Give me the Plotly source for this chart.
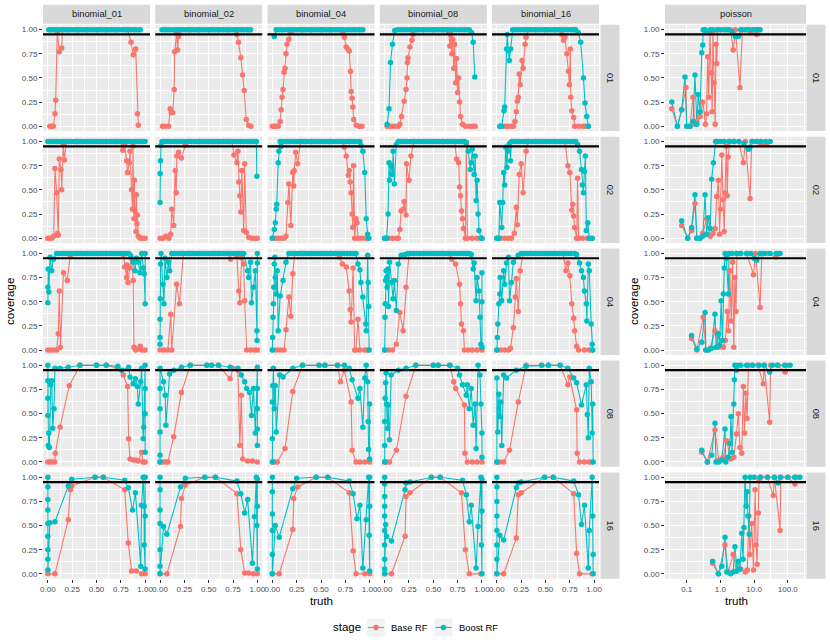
import plotly.graph_objects as go

# facet levels
rows = ["01", "02", "04", "08", "16"]
cols = ["binomial_01", "binomial_02", "binomial_04", "binomial_08", "binomial_16", "poisson"]
stages = ["Base RF", "Boost RF"]
stage_colors = ["#F8766D", "#00BFC4"]
target = 0.95
unit_ticks = [0, 0.25, 0.5, 0.75, 1]
unit_labels = ["0.00", "0.25", "0.50", "0.75", "1.00"]
unit_minor = [0.125, 0.375, 0.625, 0.875]
pois_ticks = [0.1, 1, 10, 100]
pois_labels = ["0.1", "1.0", "10.0", "100.0"]
pois_minor = [0.0316, 0.316, 3.16, 31.6, 316]

# ---- row 01 : (truth, coverage) ----
b01_r01_base = [(0.02,0),(0.04,0),(0.056,0),(0.073,0.13),(0.08,0.27),(0.097,0.97),(0.118,0.77),(0.142,0.81),(0.15,1),(0.2,1),(0.3,1),(0.4,1),(0.5,1),(0.6,1),(0.7,1),(0.82,1),(0.855,0.87),(0.878,0.74),(0.903,0.8),(0.92,0.13),(0.93,0.01)]
b01_r01_boost = [(0.01,1),(0.03,1),(0.05,1),(0.08,1),(0.11,1),(0.14,1),(0.17,1),(0.2,1),(0.23,1),(0.26,1),(0.29,1),(0.32,1),(0.35,1),(0.38,1),(0.41,1),(0.44,1),(0.47,1),(0.5,1),(0.53,1),(0.56,1),(0.59,1),(0.62,1),(0.65,1),(0.68,1),(0.71,1),(0.74,1),(0.77,1),(0.8,1),(0.83,1),(0.86,1),(0.89,1),(0.92,1),(0.95,1)]
b02_r01_base = [(0.025,0),(0.05,0),(0.087,0),(0.104,0.18),(0.115,0.14),(0.13,0.14),(0.145,0.38),(0.15,0.77),(0.17,0.96),(0.18,0.79),(0.19,0.93),(0.21,1),(0.3,1),(0.4,1),(0.5,1),(0.6,1),(0.7,1),(0.77,1),(0.79,0.95),(0.806,0.87),(0.83,0.71),(0.848,0.53),(0.865,0.37),(0.886,0.07),(0.91,0.01),(0.934,0)]
b02_r01_boost = [(0.02,1),(0.05,1),(0.08,1),(0.11,1),(0.14,1),(0.17,1),(0.2,1),(0.23,1),(0.26,1),(0.29,1),(0.32,1),(0.35,1),(0.38,1),(0.41,1),(0.44,1),(0.47,1),(0.5,1),(0.53,1),(0.56,1),(0.59,1),(0.62,1),(0.65,1),(0.68,1),(0.71,1),(0.74,1),(0.77,1),(0.8,1),(0.83,1),(0.86,1),(0.89,1),(0.91,1),(0.93,1)]
b04_r01_base = [(0.0,0),(0.02,0),(0.04,0),(0.06,0),(0.08,0.05),(0.09,0.17),(0.1,0.3),(0.11,0.38),(0.12,0.56),(0.13,0.6),(0.14,0.75),(0.15,0.85),(0.17,0.9),(0.19,0.97),(0.22,1),(0.3,1),(0.4,1),(0.5,1),(0.6,1),(0.7,1),(0.724,0.97),(0.74,0.92),(0.759,0.82),(0.775,0.8),(0.79,0.78),(0.803,0.57),(0.81,0.36),(0.82,0.29),(0.827,0.2),(0.837,0.07),(0.862,0.01),(0.89,0),(0.92,0)]
b04_r01_boost = [(0.02,0.93),(0.04,1),(0.07,1),(0.1,1),(0.13,1),(0.16,1),(0.19,1),(0.22,1),(0.25,1),(0.28,1),(0.31,1),(0.34,1),(0.37,1),(0.4,1),(0.43,1),(0.46,1),(0.49,1),(0.52,1),(0.55,1),(0.58,1),(0.61,1),(0.64,1),(0.67,1),(0.7,1),(0.73,1),(0.76,1),(0.79,1),(0.82,1),(0.85,1),(0.88,1),(0.9,1),(0.93,1)]
b08_r01_base = [(0.025,0),(0.05,0),(0.08,0),(0.11,0),(0.14,0),(0.156,0.02),(0.173,0.1),(0.2,0.26),(0.22,0.38),(0.23,0.5),(0.235,0.66),(0.24,0.71),(0.26,0.82),(0.28,0.89),(0.29,0.95),(0.32,1),(0.4,1),(0.5,1),(0.6,1),(0.64,1),(0.66,0.97),(0.67,0.83),(0.68,0.95),(0.69,0.75),(0.7,0.9),(0.71,0.6),(0.72,0.85),(0.73,0.45),(0.74,0.7),(0.75,0.35),(0.76,0.5),(0.77,0.25),(0.78,0.1),(0.8,0.02),(0.83,0),(0.87,0),(0.9,0),(0.93,0)]
b08_r01_boost = [(0.025,0.02),(0.045,0.18),(0.06,0.66),(0.08,0.85),(0.104,0.99),(0.13,1),(0.16,1),(0.19,1),(0.22,1),(0.25,1),(0.28,1),(0.31,1),(0.34,1),(0.37,1),(0.4,1),(0.43,1),(0.46,1),(0.49,1),(0.52,1),(0.55,1),(0.58,1),(0.61,1),(0.64,1),(0.67,1),(0.7,1),(0.73,1),(0.76,1),(0.79,1),(0.82,1),(0.85,1),(0.87,1),(0.893,0.97),(0.91,0.87),(0.927,0.51)]
b16_r01_base = [(0.032,0),(0.06,0),(0.09,0),(0.12,0),(0.15,0),(0.17,0),(0.186,0.05),(0.2,0.15),(0.21,0.26),(0.22,0.3),(0.23,0.54),(0.24,0.43),(0.26,0.68),(0.27,0.6),(0.29,0.85),(0.3,0.92),(0.32,1),(0.4,1),(0.5,1),(0.6,1),(0.65,1),(0.667,0.95),(0.685,0.89),(0.7,0.92),(0.72,0.75),(0.736,0.57),(0.745,0.43),(0.755,0.8),(0.76,0.3),(0.77,0.16),(0.79,0.09),(0.8,0),(0.84,0),(0.88,0),(0.91,0),(0.94,0)]
b16_r01_boost = [(0.032,0),(0.05,0),(0.073,0.16),(0.08,0.2),(0.1,0.8),(0.107,0.95),(0.118,0.78),(0.128,0.68),(0.142,0.8),(0.163,1),(0.19,1),(0.22,1),(0.25,1),(0.28,1),(0.31,1),(0.34,1),(0.37,1),(0.4,1),(0.43,1),(0.46,1),(0.49,1),(0.52,1),(0.55,1),(0.58,1),(0.61,1),(0.64,1),(0.67,1),(0.7,1),(0.73,1),(0.76,1),(0.79,1),(0.81,1),(0.837,0.97),(0.862,0.87),(0.89,0.5),(0.906,0.24),(0.924,0.1),(0.94,0)]
pois_r01_base = [(0.036,0.18),(0.053,0.0),(0.071,0.17),(0.095,0.4),(0.1,0.0),(0.125,0.0),(0.154,0.3),(0.176,0.02),(0.2,0.05),(0.25,0.1),(0.3,0.25),(0.36,0.02),(0.39,0.13),(0.42,0.72),(0.45,0.3),(0.49,0.97),(0.53,0.55),(0.57,0.15),(0.6,0.98),(0.65,0.45),(0.7,0.02),(0.74,0.85),(0.78,0.65),(0.82,1.0),(1.0,1.0),(1.5,1.0),(2.0,1.0),(2.4,0.79),(2.8,1.0),(3.8,0.4),(4.5,1.0),(6,1.0),(8,0.97),(10,1.0),(12,0.95),(13,1.0)]
pois_r01_boost = [(0.036,0.25),(0.053,0.0),(0.071,0.17),(0.089,0.51),(0.1,0.0),(0.125,0.0),(0.154,0.05),(0.176,0.53),(0.2,0.02),(0.22,0.33),(0.25,0.15),(0.28,0.76),(0.3,0.84),(0.31,1.0),(0.35,1.0),(0.4,0.97),(0.5,1.0),(0.6,1.0),(0.8,1.0),(1.0,1.0),(1.3,1.0),(1.7,1.0),(2.2,0.98),(2.8,0.93),(3.4,0.93),(4.0,1.0),(5.5,1.0),(7.0,1.0),(9.0,1.0),(11,1.0),(13,1.0),(15,1.0)]

# ---- row 02 ----
b01_r02_base = [(0.0,0),(0.02,0),(0.04,0),(0.06,0.02),(0.073,0.72),(0.09,0.47),(0.1,0.05),(0.107,0.03),(0.118,0.82),(0.135,0.71),(0.142,0.5),(0.159,0.97),(0.17,0.81),(0.19,1),(0.3,1),(0.4,1),(0.5,1),(0.6,1),(0.7,1),(0.75,1),(0.77,0.91),(0.79,0.97),(0.81,0.8),(0.82,0.68),(0.837,0.78),(0.845,0.9),(0.86,0.5),(0.87,0.3),(0.875,0.95),(0.885,0.2),(0.89,0.6),(0.895,0.28),(0.906,0.07),(0.91,0.45),(0.915,0.15),(0.92,0.24),(0.93,0.02),(0.95,0),(0.97,0),(1.0,0)]
b01_r02_boost = [(0.0,1),(0.03,1),(0.06,1),(0.09,1),(0.12,1),(0.15,1),(0.18,1),(0.21,1),(0.24,1),(0.27,1),(0.3,1),(0.33,1),(0.36,1),(0.39,1),(0.42,1),(0.45,1),(0.48,1),(0.51,1),(0.54,1),(0.57,1),(0.6,1),(0.63,1),(0.66,1),(0.69,1),(0.72,1),(0.75,1),(0.78,1),(0.81,1),(0.84,1),(0.87,1),(0.9,1),(0.93,1),(0.96,1),(0.98,1),(1.0,1)]
b02_r02_base = [(0.0,0),(0.03,0),(0.06,0.02),(0.09,0),(0.11,0.04),(0.12,0.3),(0.14,0.13),(0.155,0.7),(0.166,0.47),(0.173,0.85),(0.19,0.89),(0.22,0.83),(0.26,0.96),(0.29,1),(0.4,1),(0.5,1),(0.6,1),(0.7,1),(0.74,1),(0.76,0.86),(0.79,0.78),(0.8,0.9),(0.81,0.58),(0.82,0.44),(0.83,0.27),(0.84,0.7),(0.86,0.08),(0.87,0.77),(0.886,0.06),(0.91,0.01),(0.94,0),(0.97,0),(1.0,0)]
b02_r02_boost = [(0.0,0.37),(0.001,0.67),(0.005,0.8),(0.01,0.96),(0.02,1),(0.05,1),(0.08,1),(0.11,1),(0.14,1),(0.17,1),(0.2,1),(0.23,1),(0.26,1),(0.29,1),(0.32,1),(0.35,1),(0.38,1),(0.41,1),(0.44,1),(0.47,1),(0.5,1),(0.53,1),(0.56,1),(0.59,1),(0.62,1),(0.65,1),(0.68,1),(0.71,1),(0.74,1),(0.77,1),(0.8,1),(0.83,1),(0.86,1),(0.89,1),(0.92,1),(0.95,1),(0.98,1),(0.99,1),(0.995,0.64)]
b04_r02_base = [(0.0,0),(0.03,0),(0.06,0),(0.09,0),(0.12,0),(0.14,0.02),(0.16,0.37),(0.17,0.56),(0.19,0.13),(0.21,0.68),(0.22,0.54),(0.225,0.7),(0.24,0.89),(0.26,0.77),(0.29,1),(0.4,1),(0.5,1),(0.6,1),(0.72,1),(0.74,0.94),(0.76,0.85),(0.78,0.65),(0.79,0.7),(0.8,0.58),(0.81,0.47),(0.82,0.25),(0.827,0.11),(0.835,0.75),(0.846,0.0),(0.86,0.2),(0.87,0.16),(0.88,0),(0.92,0),(0.96,0),(0.99,0)]
b04_r02_boost = [(0.0,0.0),(0.02,0.09),(0.03,0.16),(0.04,0.3),(0.045,0.35),(0.06,0.78),(0.067,0.9),(0.08,1),(0.09,0.95),(0.1,1),(0.13,1),(0.16,1),(0.19,1),(0.22,1),(0.25,1),(0.28,1),(0.31,1),(0.34,1),(0.37,1),(0.4,1),(0.43,1),(0.46,1),(0.49,1),(0.52,1),(0.55,1),(0.58,1),(0.61,1),(0.64,1),(0.67,1),(0.7,1),(0.73,1),(0.76,1),(0.79,1),(0.82,1),(0.85,1),(0.88,1),(0.9,1),(0.91,0.96),(0.93,0.9),(0.95,0.68),(0.965,0.2),(0.98,0.04),(0.99,0.0)]
b08_r02_base = [(0.0,0),(0.04,0),(0.08,0),(0.12,0),(0.14,0.0),(0.156,0.09),(0.17,0.28),(0.19,0.3),(0.2,0.38),(0.22,0.24),(0.225,0.77),(0.25,0.6),(0.27,0.85),(0.3,1),(0.4,1),(0.5,1),(0.6,1),(0.72,1),(0.74,0.82),(0.76,0.78),(0.77,0.53),(0.78,0.44),(0.79,0.28),(0.8,0.2),(0.81,0.1),(0.83,0.0),(0.84,0.97),(0.85,0),(0.9,0),(0.95,0),(1.0,0)]
b08_r02_boost = [(0.0,0),(0.02,0),(0.035,0.25),(0.045,0.78),(0.05,0.6),(0.065,0.75),(0.08,0.66),(0.087,0.9),(0.1,0.56),(0.12,0.97),(0.14,1),(0.17,1),(0.2,1),(0.23,1),(0.26,1),(0.29,1),(0.32,1),(0.35,1),(0.38,1),(0.41,1),(0.44,1),(0.47,1),(0.5,1),(0.53,1),(0.56,1),(0.59,1),(0.62,1),(0.65,1),(0.68,1),(0.71,1),(0.74,1),(0.77,1),(0.8,1),(0.82,1),(0.84,0.99),(0.86,0.9),(0.88,0.71),(0.89,0.78),(0.9,0.92),(0.92,0.66),(0.93,0.85),(0.94,0.39),(0.95,0.6),(0.96,0.25),(0.97,0.08),(0.99,0.0),(1.0,0.0)]
b16_r02_base = [(0.0,0),(0.04,0),(0.08,0),(0.12,0),(0.15,0),(0.18,0.05),(0.2,0.32),(0.21,0.14),(0.23,0.66),(0.25,0.77),(0.27,0.47),(0.3,0.9),(0.32,1),(0.4,1),(0.5,1),(0.6,1),(0.7,1),(0.73,0.75),(0.75,0.68),(0.77,0.29),(0.78,0.35),(0.79,0.23),(0.8,0.11),(0.82,0.0),(0.83,0.62),(0.84,0),(0.88,0),(0.93,0),(0.98,0)]
b16_r02_boost = [(0.0,0),(0.02,0),(0.03,0.37),(0.05,0.11),(0.06,0.37),(0.07,0.68),(0.08,0.55),(0.09,0.94),(0.105,0.73),(0.11,0.9),(0.13,0.98),(0.14,0.8),(0.15,1),(0.18,1),(0.21,1),(0.24,1),(0.27,1),(0.3,1),(0.33,1),(0.36,1),(0.39,1),(0.42,1),(0.45,1),(0.48,1),(0.51,1),(0.54,1),(0.57,1),(0.6,1),(0.63,1),(0.66,1),(0.69,1),(0.72,1),(0.75,1),(0.78,1),(0.81,1),(0.83,0.97),(0.85,0.9),(0.87,0.71),(0.88,0.55),(0.89,0.47),(0.9,0.69),(0.91,0.85),(0.92,0.08),(0.935,0.16),(0.95,0),(0.98,0)]
pois_r02_base = [(0.071,0.13),(0.107,0.0),(0.14,0.08),(0.176,0.36),(0.2,0.0),(0.25,0.0),(0.3,0.05),(0.39,0.2),(0.5,0.02),(0.6,0.05),(0.7,0.1),(0.78,0.43),(0.87,0.6),(0.95,0.04),(1.0,0.3),(1.1,0.86),(1.2,0.4),(1.3,0.07),(1.38,0.47),(1.5,0.95),(1.6,0.44),(1.7,0.84),(1.9,1.0),(2.5,1.0),(3.5,1.0),(4.8,0.78),(5.5,1.0),(7.6,0.41),(8.5,1.0),(12,1.0),(16,0.97),(23,0.97)]
pois_r02_boost = [(0.071,0.18),(0.107,0.0),(0.14,0.11),(0.176,0.45),(0.2,0.0),(0.25,0.0),(0.3,0.02),(0.35,0.45),(0.39,0.04),(0.44,0.21),(0.5,0.1),(0.55,0.61),(0.62,0.78),(0.72,1.0),(0.8,1.0),(1.0,1.0),(1.3,1.0),(1.8,1.0),(2.5,1.0),(3.5,1.0),(5.0,0.98),(6.8,0.92),(7.5,0.94),(9,1.0),(12,1.0),(16,1.0),(22,1.0),(30,1.0)]

# ---- row 04 ----
b01_r04_base = [(0.0,0),(0.03,0),(0.06,0),(0.09,0),(0.107,0.17),(0.118,0.61),(0.13,0.03),(0.16,0.8),(0.2,0.72),(0.23,0.98),(0.26,1),(0.4,1),(0.5,1),(0.6,1),(0.75,1),(0.775,0.99),(0.79,0.86),(0.81,0.75),(0.815,0.88),(0.824,0.7),(0.84,0.85),(0.86,0.95),(0.877,0.72),(0.885,0.03),(0.9,0),(0.93,0.01),(0.95,0.04),(0.97,0),(1.0,0)]
b01_r04_boost = [(0.0,0.49),(0.0,0.65),(0.004,0.84),(0.01,0.6),(0.022,0.96),(0.04,0.82),(0.056,0.94),(0.09,1),(0.12,1),(0.15,1),(0.18,1),(0.21,1),(0.24,1),(0.27,1),(0.3,1),(0.33,1),(0.36,1),(0.39,1),(0.42,1),(0.45,1),(0.48,1),(0.51,1),(0.54,1),(0.57,1),(0.6,1),(0.63,1),(0.66,1),(0.69,1),(0.72,1),(0.75,1),(0.78,1),(0.81,1),(0.83,1),(0.85,0.98),(0.877,0.91),(0.895,0.82),(0.91,0.95),(0.93,0.91),(0.947,0.8),(0.964,1.0),(0.98,0.85),(0.99,0.79),(1.0,0.48),(1.0,1.0)]
b02_r04_base = [(0.0,0),(0.04,0),(0.08,0),(0.11,0.37),(0.12,0.0),(0.17,0.68),(0.2,0.48),(0.24,1),(0.3,1),(0.4,1),(0.5,1),(0.6,1),(0.7,1),(0.725,0.94),(0.79,0.97),(0.81,0.61),(0.82,0.49),(0.84,0.95),(0.86,0.89),(0.87,0.51),(0.89,0.0),(0.93,0),(0.97,0),(1.0,0)]
b02_r04_boost = [(0.0,0.06),(0.0,0.13),(0.0,0.32),(0.003,0.53),(0.005,0.89),(0.01,1.0),(0.03,0.68),(0.04,0.48),(0.05,0.95),(0.07,0.75),(0.085,0.91),(0.1,0.82),(0.12,1),(0.15,1),(0.18,1),(0.21,1),(0.24,1),(0.27,1),(0.3,1),(0.33,1),(0.36,1),(0.39,1),(0.42,1),(0.45,1),(0.48,1),(0.51,1),(0.54,1),(0.57,1),(0.6,1),(0.63,1),(0.66,1),(0.69,1),(0.72,1),(0.75,1),(0.78,1),(0.81,1),(0.84,1),(0.86,1),(0.9,0.82),(0.91,0.75),(0.93,0.91),(0.94,0.49),(0.96,0.65),(0.98,0.82),(0.995,0.2),(0.997,0.1),(1.0,1.0),(1.0,0.9)]
b04_r04_base = [(0.0,0),(0.04,0),(0.08,0),(0.12,0),(0.14,0.21),(0.17,0.55),(0.19,0.35),(0.21,0.79),(0.23,1),(0.3,1),(0.4,1),(0.5,1),(0.6,1),(0.67,1),(0.69,0.96),(0.72,0.89),(0.76,0.86),(0.79,0.61),(0.8,0.42),(0.81,0.29),(0.83,0.85),(0.846,0.0),(0.86,0),(0.88,0.32),(0.9,0),(0.95,0),(0.98,0)]
b04_r04_boost = [(0.0,0.0),(0.003,0.13),(0.006,0.34),(0.01,0.48),(0.015,0.65),(0.02,0.89),(0.025,0.96),(0.03,0.75),(0.04,0.58),(0.05,0.82),(0.06,0.2),(0.08,0.56),(0.11,0.72),(0.14,0.91),(0.17,1),(0.2,1),(0.23,1),(0.26,1),(0.29,1),(0.32,1),(0.35,1),(0.38,1),(0.41,1),(0.44,1),(0.47,1),(0.5,1),(0.53,1),(0.56,1),(0.59,1),(0.62,1),(0.65,1),(0.68,1),(0.71,1),(0.74,1),(0.77,1),(0.8,1),(0.83,1),(0.86,1),(0.88,0.89),(0.9,0.83),(0.91,0.7),(0.93,0.55),(0.96,0.27),(0.965,0.2),(0.98,0.98),(0.985,0.7),(0.99,0.45),(0.995,0.0)]
b08_r04_base = [(0.0,0),(0.04,0),(0.08,0),(0.12,0.06),(0.156,0.39),(0.19,0.2),(0.22,0.65),(0.25,1),(0.3,1),(0.4,1),(0.5,1),(0.6,1),(0.66,1),(0.69,0.94),(0.73,0.89),(0.77,0.68),(0.78,0.48),(0.79,0.27),(0.81,0.2),(0.82,0.0),(0.86,0),(0.9,0),(0.95,0),(1.0,0)]
b08_r04_boost = [(0.0,0.0),(0.003,0.34),(0.006,0.48),(0.01,0.72),(0.015,0.82),(0.02,0.75),(0.025,0.65),(0.035,0.84),(0.04,0.45),(0.05,0.91),(0.07,0.7),(0.087,0.53),(0.1,0.72),(0.12,0.41),(0.14,0.89),(0.17,0.98),(0.21,0.99),(0.24,1),(0.27,1),(0.3,1),(0.33,1),(0.36,1),(0.39,1),(0.42,1),(0.45,1),(0.48,1),(0.51,1),(0.54,1),(0.57,1),(0.6,1),(0.63,1),(0.66,1),(0.69,1),(0.72,1),(0.75,1),(0.78,1),(0.81,1),(0.84,1),(0.87,1),(0.89,0.99),(0.91,0.84),(0.92,0.9),(0.94,0.51),(0.95,0.75),(0.97,0.61),(0.98,0.34),(0.99,0.06),(1.0,0.03),(1.0,0.8),(1.0,0.5)]
b16_r04_base = [(0.0,0),(0.04,0),(0.08,0),(0.12,0),(0.14,0.02),(0.17,0.23),(0.19,0.55),(0.2,0.74),(0.22,0.4),(0.24,0.82),(0.27,1),(0.4,1),(0.5,1),(0.6,1),(0.68,1),(0.71,0.82),(0.73,0.9),(0.75,0.77),(0.77,0.48),(0.79,0.33),(0.8,0.2),(0.82,0.04),(0.84,0),(0.9,0),(0.95,0),(0.98,0)]
b16_r04_boost = [(0.0,0.0),(0.005,0.13),(0.01,0.27),(0.02,0.48),(0.03,0.58),(0.035,0.75),(0.05,0.51),(0.07,0.82),(0.08,0.68),(0.1,0.9),(0.12,0.96),(0.13,0.51),(0.15,0.7),(0.17,0.91),(0.22,0.98),(0.25,1),(0.28,1),(0.31,1),(0.34,1),(0.37,1),(0.4,1),(0.43,1),(0.46,1),(0.49,1),(0.52,1),(0.55,1),(0.58,1),(0.61,1),(0.64,1),(0.67,1),(0.7,1),(0.73,1),(0.76,1),(0.8,1),(0.82,0.99),(0.85,0.9),(0.87,0.82),(0.89,0.75),(0.9,0.61),(0.92,0.48),(0.925,0.3),(0.94,0.89),(0.95,0.82),(0.97,0.27),(0.98,0.06),(0.985,0.0)]
pois_r04_base = [(0.14,0.12),(0.2,0.0),(0.31,0.34),(0.37,0.0),(0.5,0.02),(0.69,0.2),(0.9,0.03),(1.22,0.03),(1.4,0.1),(1.6,0.4),(1.75,0.2),(1.9,0.82),(2.1,0.3),(2.3,0.91),(2.5,0.03),(2.7,0.75),(2.9,0.4),(3.1,1.0),(4,1.0),(6,1.0),(9.6,0.78),(11,1.0),(15,0.44),(17,1.0),(25,1.0),(45,0.96),(50,1.0)]
pois_r04_boost = [(0.14,0.15),(0.2,0.01),(0.28,0.08),(0.35,0.39),(0.37,0.0),(0.45,0.0),(0.55,0.02),(0.69,0.37),(0.75,0.03),(0.87,0.17),(0.95,0.05),(1.05,0.51),(1.15,0.1),(1.22,0.58),(1.3,0.85),(1.38,1.0),(1.5,0.95),(1.72,0.58),(1.8,1.0),(2.2,1.0),(3,1.0),(4,1.0),(6,1.0),(8,1.0),(10,0.95),(12,0.93),(15,1.0),(20,1.0),(30,1.0),(45,1.0),(59,1.0)]

# ---- row 08 ----
b01_r08_base = [(0.0,0),(0.02,0),(0.04,0),(0.07,0),(0.077,0.09),(0.125,0.36),(0.22,0.79),(0.33,1.0),(0.5,1.0),(0.6,1.0),(0.71,0.97),(0.775,0.9),(0.82,0.78),(0.83,0.24),(0.845,0.03),(0.88,0.02),(0.906,0.02),(0.93,0.01),(0.964,0.1),(0.98,0),(1.0,0)]
b01_r08_boost = [(0.0,0.48),(0.0,0.66),(0.0,0.84),(0.0,1.0),(0.005,0.17),(0.01,0.3),(0.015,0.15),(0.03,0.8),(0.04,0.84),(0.05,0.35),(0.063,0.55),(0.073,0.97),(0.125,0.97),(0.21,0.98),(0.33,1.0),(0.5,1.0),(0.6,1.0),(0.72,0.99),(0.76,0.95),(0.83,0.98),(0.845,0.88),(0.877,0.81),(0.9,0.86),(0.92,0.78),(0.93,0.6),(0.955,0.83),(0.964,0.97),(0.98,0.24),(0.985,0.36),(1.0,1.0),(1.0,0.76),(1.0,0.5),(1.0,0.1)]
b02_r08_base = [(0.0,0),(0.03,0),(0.06,0),(0.08,0),(0.14,0.26),(0.22,0.72),(0.31,1.0),(0.48,1.0),(0.53,1.0),(0.6,1.0),(0.72,0.86),(0.75,0.97),(0.8,0.95),(0.82,0.17),(0.835,0.69),(0.85,0.03),(0.9,0.01),(0.95,0.01),(1.0,0)]
b02_r08_boost = [(0.0,0.0),(0.0,0.07),(0.0,0.31),(0.0,0.55),(0.0,0.76),(0.0,0.97),(0.035,0.83),(0.053,0.69),(0.06,0.38),(0.098,0.91),(0.14,0.95),(0.22,0.98),(0.31,1.0),(0.48,1.0),(0.53,1.0),(0.6,1.0),(0.72,0.98),(0.8,0.97),(0.835,0.9),(0.87,0.83),(0.89,0.76),(0.92,0.72),(0.94,0.48),(0.96,0.76),(0.98,0.3),(1.0,0.98),(1.0,0.76),(1.0,0.55),(1.0,0.34),(1.0,0.17)]
b04_r08_base = [(0.0,0),(0.02,0),(0.05,0),(0.13,0.14),(0.21,0.73),(0.31,1.0),(0.48,1.0),(0.54,1.0),(0.67,1.0),(0.7,0.83),(0.74,0.95),(0.81,0.62),(0.82,0.12),(0.86,0),(0.9,0),(0.95,0),(1.0,0)]
b04_r08_boost = [(0.0,0.0),(0.0,0.24),(0.0,0.62),(0.005,0.79),(0.01,0.97),(0.02,0.55),(0.03,0.79),(0.04,0.31),(0.075,0.9),(0.11,0.88),(0.21,0.97),(0.31,1.0),(0.48,1.0),(0.54,1.0),(0.67,1.0),(0.74,1.0),(0.79,0.97),(0.82,0.85),(0.88,0.66),(0.9,0.76),(0.93,0.36),(0.95,0.87),(0.965,1.0),(0.98,0.83),(0.985,0.42),(0.99,0.13),(1.0,0.03),(1.0,0.6)]
b08_r08_base = [(0.0,0),(0.02,0),(0.05,0),(0.12,0.12),(0.22,0.68),(0.32,1.0),(0.5,1.0),(0.55,1.0),(0.67,1.0),(0.71,0.83),(0.73,0.76),(0.82,0.59),(0.825,0.09),(0.85,0),(0.9,0),(0.95,0),(1.0,0)]
b08_r08_boost = [(0.0,0.0),(0.0,0.17),(0.0,0.42),(0.005,0.66),(0.01,0.82),(0.015,0.92),(0.02,0.6),(0.03,0.35),(0.035,0.59),(0.05,0.23),(0.067,0.9),(0.14,0.95),(0.22,0.97),(0.32,1.0),(0.5,1.0),(0.55,1.0),(0.67,1.0),(0.75,0.97),(0.77,0.9),(0.8,0.8),(0.84,0.69),(0.85,0.8),(0.87,0.55),(0.89,0.76),(0.91,0.38),(0.93,0.6),(0.94,0.14),(0.96,1.0),(0.98,0.9),(0.99,0.6),(1.0,0.3),(1.0,0.05)]
b16_r08_base = [(0.0,0),(0.03,0),(0.07,0),(0.13,0.12),(0.22,0.62),(0.3,1.0),(0.46,1.0),(0.53,1.0),(0.65,1.0),(0.73,0.8),(0.75,0.88),(0.82,0.54),(0.825,0.09),(0.85,0),(0.9,0),(0.95,0),(0.98,0)]
b16_r08_boost = [(0.0,0.0),(0.0,0.87),(0.01,0.31),(0.02,0.7),(0.03,0.47),(0.04,0.62),(0.05,0.17),(0.07,0.9),(0.1,0.87),(0.2,0.95),(0.3,0.99),(0.46,1.0),(0.53,1.0),(0.65,1.0),(0.73,0.97),(0.79,0.87),(0.82,0.82),(0.87,0.59),(0.92,0.8),(0.93,0.49),(0.94,0.25),(0.95,0.97),(0.97,0.83),(0.98,0.3),(0.985,0.6),(0.99,0.0)]
pois_r08_base = [(0.28,0.1),(0.41,0.0),(0.69,0.33),(0.9,0.02),(1.2,0.05),(1.55,0.22),(2.0,0.03),(2.5,0.05),(3.0,0.29),(3.4,0.5),(3.8,0.15),(4.3,0.09),(4.8,0.78),(5.2,0.3),(5.7,0.71),(6.2,0.45),(6.8,1.0),(9,1.0),(13,1.0),(18.7,0.81),(20,1.0),(29,0.41),(31,1.0),(50,1.0),(83,0.93),(95,1.0)]
pois_r08_boost = [(0.28,0.12),(0.41,0.0),(0.55,0.07),(0.69,0.4),(0.74,0.0),(0.9,0.0),(1.1,0.02),(1.37,0.34),(1.45,0.0),(1.7,0.05),(1.93,0.19),(2.06,0.47),(2.2,0.1),(2.5,0.6),(2.6,0.85),(2.7,1.0),(3.0,0.95),(3.3,1.0),(4,1.0),(6,1.0),(9,1.0),(14,1.0),(20,1.0),(29,0.93),(35,1.0),(50,1.0),(80,1.0),(117,1.0)]

# ---- row 16 ----
b01_r16_base = [(0.0,0),(0.073,0),(0.21,0.56),(0.23,0.87),(0.245,0.91),(0.485,1.0),(0.57,1.0),(0.79,0.87),(0.827,0.32),(0.86,0.03),(0.91,0.03),(0.964,0),(1.0,0)]
b01_r16_boost = [(0.0,1.0),(0.0,0.9),(0.0,0.77),(0.0,0.66),(0.0,0.52),(0.0,0.39),(0.0,0.25),(0.0,0.15),(0.0,0.04),(0.02,0.53),(0.073,0.54),(0.21,0.91),(0.245,0.98),(0.485,1.0),(0.57,1.0),(0.79,0.97),(0.827,0.89),(0.87,0.66),(0.9,0.84),(0.955,0.08),(0.964,0.71),(0.98,1.0),(0.99,0.7),(0.99,0.3),(1.0,0.05),(1.0,0.6),(1.0,1.0)]
b02_r16_base = [(0.0,0),(0.07,0),(0.21,0.49),(0.22,0.78),(0.26,0.92),(0.46,1.0),(0.57,1.0),(0.79,0.83),(0.83,0.25),(0.87,0.01),(0.91,0.01),(0.96,0),(1.0,0)]
b02_r16_boost = [(0.0,1.0),(0.0,0.87),(0.0,0.66),(0.0,0.52),(0.0,0.25),(0.0,0.08),(0.0,0.0),(0.035,0.49),(0.07,0.41),(0.21,0.9),(0.26,0.99),(0.46,1.0),(0.57,1.0),(0.79,0.96),(0.83,0.83),(0.87,0.63),(0.9,0.77),(0.95,0.11),(0.97,0.59),(0.99,1.0),(0.995,0.5),(1.0,0.05),(1.0,0.7),(1.0,0.98)]
b04_r16_base = [(0.0,0),(0.07,0),(0.21,0.46),(0.22,0.78),(0.26,0.9),(0.45,1.0),(0.57,1.0),(0.79,0.84),(0.83,0.24),(0.86,0.0),(0.95,0),(1.0,0)]
b04_r16_boost = [(0.0,1.0),(0.0,0.85),(0.0,0.62),(0.0,0.45),(0.0,0.2),(0.0,0.0),(0.03,0.5),(0.07,0.38),(0.21,0.88),(0.25,0.99),(0.45,1.0),(0.57,1.0),(0.79,0.96),(0.83,0.83),(0.87,0.57),(0.9,0.71),(0.93,0.06),(0.965,0.56),(0.99,1.0),(0.995,0.4),(1.0,0.03),(1.0,0.7),(1.0,1.0)]
b08_r16_base = [(0.0,0),(0.07,0),(0.21,0.39),(0.22,0.8),(0.26,0.84),(0.48,1.0),(0.57,1.0),(0.79,0.84),(0.83,0.25),(0.87,0.0),(0.99,0)]
b08_r16_boost = [(0.0,1.0),(0.0,0.93),(0.0,0.8),(0.0,0.7),(0.0,0.6),(0.0,0.45),(0.0,0.3),(0.0,0.15),(0.0,0.05),(0.0,0.0),(0.01,0.51),(0.02,0.39),(0.07,0.34),(0.21,0.87),(0.22,0.94),(0.26,0.95),(0.48,1.0),(0.57,1.0),(0.8,0.97),(0.84,0.82),(0.87,0.54),(0.89,0.71),(0.94,0.06),(0.96,0.49),(0.99,1.0),(0.995,0.3),(1.0,0.0),(1.0,0.65),(1.0,0.98)]
b16_r16_base = [(0.0,0),(0.07,0),(0.2,0.37),(0.22,0.82),(0.25,0.84),(0.49,1.0),(0.58,1.0),(0.79,0.83),(0.82,0.21),(0.85,0.0),(0.98,0)]
b16_r16_boost = [(0.0,1.0),(0.0,0.9),(0.0,0.75),(0.0,0.6),(0.0,0.45),(0.0,0.3),(0.0,0.15),(0.0,0.0),(0.03,0.4),(0.07,0.35),(0.2,0.89),(0.22,0.94),(0.25,0.95),(0.49,1.0),(0.58,1.0),(0.79,0.96),(0.84,0.82),(0.87,0.51),(0.9,0.71),(0.94,0.06),(0.95,0.45),(0.98,1.0),(0.985,0.6),(0.99,0.2),(0.99,0.0)]
pois_r16_base = [(0.59,0.11),(0.87,0.0),(1.37,0.3),(1.7,0.02),(2.4,0.2),(3.0,0.03),(4.0,0.05),(5.5,0.02),(6.3,0.04),(7.0,0.6),(7.5,0.2),(8.5,0.52),(9.6,0.04),(10.7,0.87),(11.5,0.3),(12.3,0.1),(13.3,0.63),(14,0.97),(16,1.0),(25,1.0),(37,0.81),(40,1.0),(59,0.45),(62,1.0),(100,1.0),(163,0.93),(180,1.0)]
pois_r16_boost = [(0.59,0.13),(0.87,0.0),(1.1,0.08),(1.37,0.38),(1.55,0.02),(2.0,0.0),(2.4,0.02),(2.7,0.28),(3.1,0.03),(3.4,0.13),(3.8,0.05),(4.3,0.42),(4.7,0.15),(5.0,0.48),(5.4,1.0),(5.8,0.7),(6.2,0.85),(6.6,0.6),(7.2,0.41),(7.6,1.0),(10,1.0),(15,1.0),(25,1.0),(40,1.0),(52,0.94),(60,1.0),(100,1.0),(160,1.0),(229,1.0)]

panel_data = {
    "01": [(b01_r01_base, b01_r01_boost), (b02_r01_base, b02_r01_boost), (b04_r01_base, b04_r01_boost),
           (b08_r01_base, b08_r01_boost), (b16_r01_base, b16_r01_boost), (pois_r01_base, pois_r01_boost)],
    "02": [(b01_r02_base, b01_r02_boost), (b02_r02_base, b02_r02_boost), (b04_r02_base, b04_r02_boost),
           (b08_r02_base, b08_r02_boost), (b16_r02_base, b16_r02_boost), (pois_r02_base, pois_r02_boost)],
    "04": [(b01_r04_base, b01_r04_boost), (b02_r04_base, b02_r04_boost), (b04_r04_base, b04_r04_boost),
           (b08_r04_base, b08_r04_boost), (b16_r04_base, b16_r04_boost), (pois_r04_base, pois_r04_boost)],
    "08": [(b01_r08_base, b01_r08_boost), (b02_r08_base, b02_r08_boost), (b04_r08_base, b04_r08_boost),
           (b08_r08_base, b08_r08_boost), (b16_r08_base, b16_r08_boost), (pois_r08_base, pois_r08_boost)],
    "16": [(b01_r16_base, b01_r16_boost), (b02_r16_base, b02_r16_boost), (b04_r16_base, b04_r16_boost),
           (b08_r16_base, b08_r16_boost), (b16_r16_base, b16_r16_boost), (pois_r16_base, pois_r16_boost)],
}

# ---- layout in pixels ----
W, H = 830, 642
FONT = "Liberation Sans, Arial, sans-serif"
col_left = [43, 155.2, 267.5, 379.8, 492, 665]
col_w = [107, 107, 107, 107, 107, 141]
row_top = [24.8, 136.7, 248.6, 360.5, 472.4]
row_h = 106.3
strip = 19
TICK = 8.0

def px(x): return x / W
def py(y): return 1 - y / H

def label(text, x, y, size, color="black", angle=0, xanchor="center"):
    return dict(text=text, xref="paper", yref="paper", showarrow=False, textangle=angle,
                x=px(x), y=py(y), xanchor=xanchor, yanchor="middle",
                font=dict(size=size, color=color, family=FONT))

fig = go.Figure()
layout = {}
shapes = []
annos = []

for r, row in enumerate(rows):
    for c, col in enumerate(cols):
        k = r * 6 + c + 1
        sx = "" if k == 1 else str(k)
        pois = col == "poisson"
        bottom = r == len(rows) - 1
        left = c in (0, 5)
        xa = dict(domain=[px(col_left[c]), px(col_left[c] + col_w[c])], anchor="y" + sx,
                  automargin=False,
                  showgrid=True, gridcolor="white", gridwidth=1.1, zeroline=False,
                  showticklabels=bottom, ticks="outside" if bottom else "", ticklen=3,
                  tickcolor="#333333", tickwidth=1,
                  tickfont=dict(size=TICK, color="#4D4D4D", family=FONT), showline=False)
        if pois:
            xa.update(type="log", range=[-1.644, 2.54], tickvals=pois_ticks, ticktext=pois_labels,
                      minor=dict(tickmode="array", tickvals=pois_minor, showgrid=True,
                                 gridcolor="white", gridwidth=0.55))
        else:
            xa.update(range=[-0.05, 1.05], tickvals=unit_ticks, ticktext=unit_labels,
                      minor=dict(tickmode="array", tickvals=unit_minor, showgrid=True,
                                 gridcolor="white", gridwidth=0.55))
        ya = dict(domain=[py(row_top[r] + row_h), py(row_top[r])], anchor="x" + sx,
                  automargin=False,
                  range=[-0.05, 1.05], tickvals=unit_ticks, ticktext=unit_labels,
                  showgrid=True, gridcolor="white", gridwidth=1.1, zeroline=False,
                  showticklabels=left, ticks="outside" if left else "", ticklen=3,
                  tickcolor="#333333", tickwidth=1,
                  tickfont=dict(size=TICK, color="#4D4D4D", family=FONT),
                  minor=dict(tickmode="array", tickvals=unit_minor, showgrid=True,
                             gridcolor="white", gridwidth=0.55))
        layout["xaxis" + sx] = xa
        layout["yaxis" + sx] = ya

        base, boost = panel_data[row][c]
        for pts, colr in ((base, stage_colors[0]), (boost, stage_colors[1])):
            fig.add_trace(go.Scatter(
                x=[p[0] for p in pts], y=[p[1] for p in pts], mode="lines",
                line=dict(color=colr, width=1.1), xaxis="x" + sx, yaxis="y" + sx,
                showlegend=False, hoverinfo="skip"))
        for pts, colr in ((base, stage_colors[0]), (boost, stage_colors[1])):
            fig.add_trace(go.Scatter(
                x=[p[0] for p in pts], y=[p[1] for p in pts], mode="markers",
                marker=dict(color=colr, size=5.5, line=dict(width=0)),
                xaxis="x" + sx, yaxis="y" + sx, showlegend=False))

        shapes.append(dict(type="line", xref="x" + sx + " domain", yref="y" + sx,
                           x0=0, x1=1, y0=target, y1=target,
                           line=dict(color="black", width=2.2), layer="above"))

# top strips
for c, col in enumerate(cols):
    shapes.append(dict(type="rect", xref="paper", yref="paper", layer="below",
                       x0=px(col_left[c]), x1=px(col_left[c] + col_w[c]),
                       y0=py(row_top[0] - 1), y1=py(row_top[0] - 1 - strip),
                       fillcolor="#D9D9D9", line=dict(width=0)))
    annos.append(label(col, col_left[c] + col_w[c] / 2, row_top[0] - 1 - strip / 2,
                       9.3, "#1A1A1A"))

# right strips
for r, row in enumerate(rows):
    for xs in (600.5, 806.5):
        shapes.append(dict(type="rect", xref="paper", yref="paper", layer="below",
                           x0=px(xs), x1=px(xs + strip),
                           y0=py(row_top[r] + row_h), y1=py(row_top[r]),
                           fillcolor="#D9D9D9", line=dict(width=0)))
        annos.append(label(row, xs + strip / 2, row_top[r] + row_h / 2, 9.3, "#1A1A1A", angle=90))

# axis titles
annos.append(label("truth", 321, 601, 11.5))
annos.append(label("truth", 736, 601, 11.5))
annos.append(label("coverage", 10, 302, 11.5, angle=-90))
annos.append(label("coverage", 634, 302, 11.5, angle=-90))

# legend (drawn as keys)
annos.append(label("stage", 331, 627, 11.5, xanchor="left"))
key_left = [367, 434.5]
for i, name in enumerate(stages):
    kx = key_left[i]
    shapes.append(dict(type="rect", xref="paper", yref="paper", x0=px(kx), x1=px(kx + 18),
                       y0=py(636.5), y1=py(618.5), fillcolor="#F2F2F2", line=dict(width=0)))
    shapes.append(dict(type="line", xref="paper", yref="paper", x0=px(kx + 1), x1=px(kx + 17),
                       y0=py(627.5), y1=py(627.5), line=dict(color=stage_colors[i], width=1.1)))
    shapes.append(dict(type="circle", xref="paper", yref="paper", x0=px(kx + 6.3), x1=px(kx + 11.7),
                       y0=py(630.2), y1=py(624.8), fillcolor=stage_colors[i], line=dict(width=0)))
    annos.append(label(name, kx + 22, 627.5, 9.4, xanchor="left"))

fig.update_layout(
    width=W, height=H, margin=dict(l=0, r=0, t=0, b=0),
    paper_bgcolor="white", plot_bgcolor="#EBEBEB",
    showlegend=False, shapes=shapes, annotations=annos,
    font=dict(family=FONT), **layout)

# page body margin would push the fixed-size figure off the 830x642 window
fig.write_html("out.html", config={"displayModeBar": False},
               post_script="document.body.style.margin='0';")
